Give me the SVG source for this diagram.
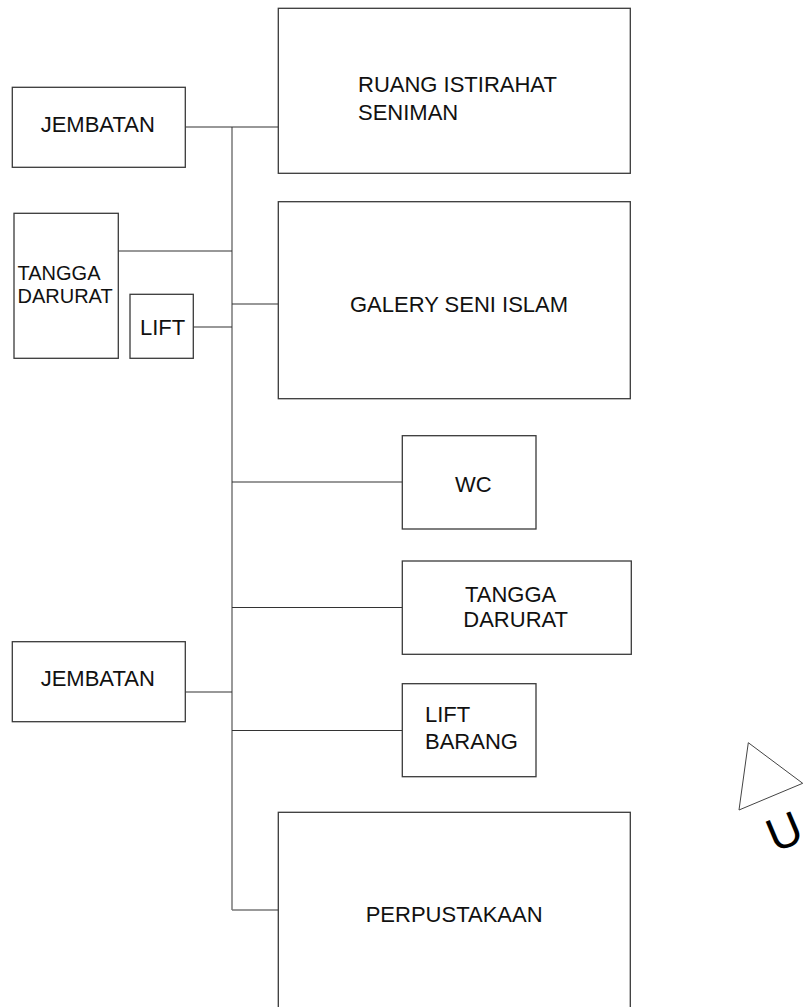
<svg xmlns="http://www.w3.org/2000/svg" width="803" height="1007" viewBox="0 0 803 1007">
<style>
.box{fill:#fff;stroke:#3a3a3a;stroke-width:1.3}
.t{font-family:"Liberation Sans",Arial,sans-serif;font-size:22px;fill:#111}
.ts{font-family:"Liberation Sans",Arial,sans-serif;font-size:20px;fill:#111}
.c{fill:none;stroke:#333;stroke-width:1.2}
.trunk{fill:none;stroke:#777;stroke-width:1.5}
</style>
<rect width="803" height="1007" fill="#fff"/>
<g id="connectors">
<line class="trunk" x1="232" y1="127" x2="232" y2="910"/>
<line class="c" x1="185" y1="127" x2="278" y2="127"/>
<line class="c" x1="118" y1="251" x2="232" y2="251"/>
<line class="c" x1="232" y1="304" x2="278" y2="304"/>
<line class="c" x1="193" y1="327" x2="232" y2="327"/>
<line class="c" x1="232" y1="482" x2="402" y2="482"/>
<line class="c" x1="232" y1="607.5" x2="402" y2="607.5"/>
<line class="c" x1="185" y1="692" x2="232" y2="692"/>
<line class="c" x1="232" y1="730.5" x2="402" y2="730.5"/>
<line class="trunk" x1="232" y1="910" x2="278" y2="910"/>
</g>
<g id="jembatan-1">
<rect class="box" x="12.3" y="87.3" width="173" height="80"/>
<text class="t" x="40.7" y="131.5">JEMBATAN</text>
</g>
<g id="ruang-istirahat">
<rect class="box" x="278.3" y="8.3" width="352" height="165"/>
<text class="t" x="358" y="92">RUANG ISTIRAHAT</text>
<text class="t" x="358" y="120">SENIMAN</text>
</g>
<g id="tangga-darurat-1">
<rect class="box" x="14" y="213.3" width="104.3" height="145"/>
<text class="ts" x="17.5" y="280">TANGGA</text>
<text class="ts" x="17.5" y="303.3">DARURAT</text>
</g>
<g id="lift">
<rect class="box" x="130" y="294.3" width="63.3" height="64"/>
<text class="t" x="140" y="335">LIFT</text>
</g>
<g id="galery">
<rect class="box" x="278.3" y="201.7" width="352" height="197"/>
<text class="t" x="350" y="312.3">GALERY SENI ISLAM</text>
</g>
<g id="wc">
<rect class="box" x="402.3" y="435.7" width="133.7" height="93.3"/>
<text class="t" x="455" y="492.3">WC</text>
</g>
<g id="tangga-darurat-2">
<rect class="box" x="402.3" y="561" width="229" height="93.3"/>
<text class="t" x="465" y="601.7">TANGGA</text>
<text class="t" x="463.3" y="627.3">DARURAT</text>
</g>
<g id="jembatan-2">
<rect class="box" x="12.3" y="641.7" width="173" height="80"/>
<text class="t" x="40.7" y="685.7">JEMBATAN</text>
</g>
<g id="lift-barang">
<rect class="box" x="402.3" y="683.7" width="133.7" height="93"/>
<text class="t" x="425" y="722.3">LIFT</text>
<text class="t" x="425" y="749">BARANG</text>
</g>
<g id="perpustakaan">
<rect class="box" x="278.3" y="812.3" width="352" height="220"/>
<text class="t" x="365.7" y="922.3">PERPUSTAKAAN</text>
</g>
<g id="north">
<polygon points="748.3,742.7 802.7,783.3 739,810" fill="none" stroke="#444" stroke-width="1"/>
<text transform="translate(775,853) rotate(-23)" font-family="Liberation Sans,Arial,sans-serif" font-size="47" fill="#000">U</text>
</g>
</svg>
